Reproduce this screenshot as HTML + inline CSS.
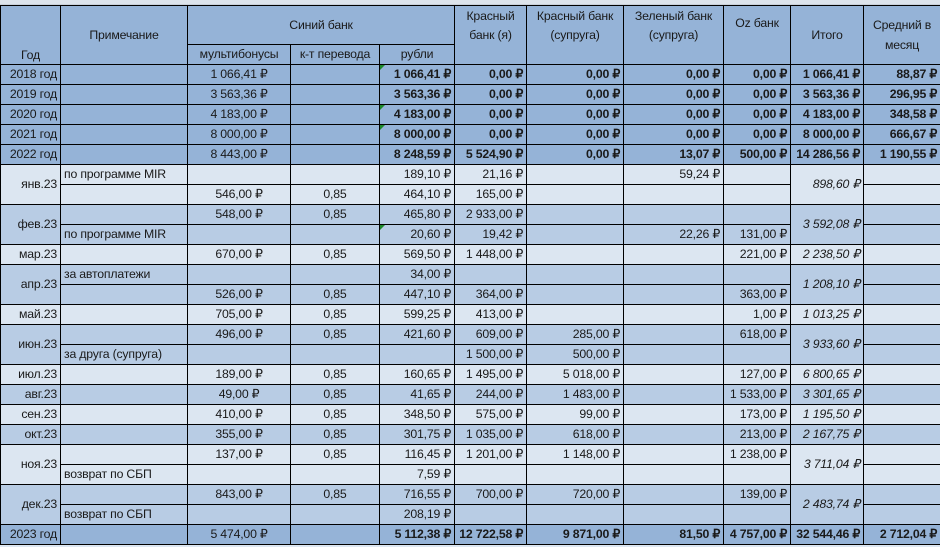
<!DOCTYPE html>
<html><head><meta charset="utf-8">
<style>
body{margin:0;width:940px;height:547px;overflow:hidden;background:#dce6f1;font-family:"Liberation Sans",sans-serif;}
.strip{height:5px;background:#dde4ec;border-bottom:1px solid #c8d0da;box-sizing:border-box;}
table{border-collapse:collapse;table-layout:fixed;width:940px;font-size:12.3px;color:#1a1a1a;letter-spacing:-0.2px;}
td{border:1px solid #000;padding:0 3px;height:19px;line-height:19px;white-space:nowrap;overflow:hidden;text-align:right;position:relative;}
.y td{background:#95b3d7;}
.l td{background:#dce6f1;}
.m td{background:#b8cce4;}
.h td{background:#95b3d7;text-align:center;}
.b{font-weight:bold;}
.c{text-align:center;}
.L{text-align:left;}
.i{font-style:italic;}
.tri:before{content:"";position:absolute;left:0;top:0;border-top:5px solid #1f8a2a;border-right:5px solid transparent;}
</style></head><body>
<div class="strip"></div>
<table>
<colgroup><col style="width:60px"><col style="width:127px"><col style="width:103px"><col style="width:89px"><col style="width:75px"><col style="width:72px"><col style="width:97px"><col style="width:100px"><col style="width:67px"><col style="width:73px"><col style="width:77px"></colgroup>
<tr class="h">
<td rowspan="2" style="vertical-align:bottom;line-height:18px">Год</td>
<td rowspan="2">Примечание</td>
<td colspan="3" style="height:38px">Синий банк</td>
<td rowspan="2" style="vertical-align:top;white-space:normal;line-height:19px;padding-top:1px">Красный банк (я)</td>
<td rowspan="2" style="vertical-align:top;white-space:normal;line-height:19px;padding-top:1px">Красный банк (супруга)</td>
<td rowspan="2" style="vertical-align:top;white-space:normal;line-height:19px;padding-top:1px">Зеленый банк (супруга)</td>
<td rowspan="2" style="vertical-align:top;padding-top:8px">Oz банк</td>
<td rowspan="2">Итого</td>
<td rowspan="2" style="white-space:normal;line-height:20px">Средний в месяц</td>
</tr>
<tr class="h">
<td>мультибонусы</td>
<td>к-т перевода</td>
<td>рубли</td>
</tr>
<tr class="y"><td>2018 год</td><td></td><td class="c">1 066,41 ₽</td><td></td><td class="b tri">1 066,41 ₽</td><td class="b">0,00 ₽</td><td class="b">0,00 ₽</td><td class="b">0,00 ₽</td><td class="b">0,00 ₽</td><td class="b">1 066,41 ₽</td><td class="b">88,87 ₽</td></tr>
<tr class="y"><td>2019 год</td><td></td><td class="c">3 563,36 ₽</td><td></td><td class="b">3 563,36 ₽</td><td class="b">0,00 ₽</td><td class="b">0,00 ₽</td><td class="b">0,00 ₽</td><td class="b">0,00 ₽</td><td class="b">3 563,36 ₽</td><td class="b">296,95 ₽</td></tr>
<tr class="y"><td>2020 год</td><td></td><td class="c">4 183,00 ₽</td><td></td><td class="b tri">4 183,00 ₽</td><td class="b">0,00 ₽</td><td class="b">0,00 ₽</td><td class="b">0,00 ₽</td><td class="b">0,00 ₽</td><td class="b">4 183,00 ₽</td><td class="b">348,58 ₽</td></tr>
<tr class="y"><td>2021 год</td><td></td><td class="c">8 000,00 ₽</td><td></td><td class="b tri">8 000,00 ₽</td><td class="b">0,00 ₽</td><td class="b">0,00 ₽</td><td class="b">0,00 ₽</td><td class="b">0,00 ₽</td><td class="b">8 000,00 ₽</td><td class="b">666,67 ₽</td></tr>
<tr class="y"><td>2022 год</td><td></td><td class="c">8 443,00 ₽</td><td></td><td class="b">8 248,59 ₽</td><td class="b">5 524,90 ₽</td><td class="b">0,00 ₽</td><td class="b">13,07 ₽</td><td class="b">500,00 ₽</td><td class="b">14 286,56 ₽</td><td class="b">1 190,55 ₽</td></tr>

<tr class="l"><td rowspan="2">янв.23</td><td class="L">по программе MIR</td><td></td><td></td><td>189,10 ₽</td><td>21,16 ₽</td><td></td><td>59,24 ₽</td><td></td><td rowspan="2" class="i">898,60 ₽</td><td></td></tr>
<tr class="l"><td></td><td class="c">546,00 ₽</td><td class="c">0,85</td><td>464,10 ₽</td><td>165,00 ₽</td><td></td><td></td><td></td><td></td></tr>
<tr class="m"><td rowspan="2">фев.23</td><td></td><td class="c">548,00 ₽</td><td class="c">0,85</td><td>465,80 ₽</td><td>2 933,00 ₽</td><td></td><td></td><td></td><td rowspan="2" class="i">3 592,08 ₽</td><td></td></tr>
<tr class="m"><td class="L">по программе MIR</td><td></td><td></td><td class="tri">20,60 ₽</td><td>19,42 ₽</td><td></td><td>22,26 ₽</td><td>131,00 ₽</td><td></td></tr>
<tr class="l"><td>мар.23</td><td></td><td class="c">670,00 ₽</td><td class="c">0,85</td><td>569,50 ₽</td><td>1 448,00 ₽</td><td></td><td></td><td>221,00 ₽</td><td class="i">2 238,50 ₽</td><td></td></tr>
<tr class="m"><td rowspan="2">апр.23</td><td class="L">за автоплатежи</td><td></td><td></td><td>34,00 ₽</td><td></td><td></td><td></td><td></td><td rowspan="2" class="i">1 208,10 ₽</td><td></td></tr>
<tr class="m"><td></td><td class="c">526,00 ₽</td><td class="c">0,85</td><td>447,10 ₽</td><td>364,00 ₽</td><td></td><td></td><td>363,00 ₽</td><td></td></tr>
<tr class="l"><td>май.23</td><td></td><td class="c">705,00 ₽</td><td class="c">0,85</td><td>599,25 ₽</td><td>413,00 ₽</td><td></td><td></td><td>1,00 ₽</td><td class="i">1 013,25 ₽</td><td></td></tr>
<tr class="m"><td rowspan="2">июн.23</td><td></td><td class="c">496,00 ₽</td><td class="c">0,85</td><td>421,60 ₽</td><td>609,00 ₽</td><td>285,00 ₽</td><td></td><td>618,00 ₽</td><td rowspan="2" class="i">3 933,60 ₽</td><td></td></tr>
<tr class="m"><td class="L">за друга (супруга)</td><td></td><td></td><td></td><td>1 500,00 ₽</td><td>500,00 ₽</td><td></td><td></td><td></td></tr>
<tr class="l"><td>июл.23</td><td></td><td class="c">189,00 ₽</td><td class="c">0,85</td><td>160,65 ₽</td><td>1 495,00 ₽</td><td>5 018,00 ₽</td><td></td><td>127,00 ₽</td><td class="i">6 800,65 ₽</td><td></td></tr>
<tr class="m"><td>авг.23</td><td></td><td class="c">49,00 ₽</td><td class="c">0,85</td><td>41,65 ₽</td><td>244,00 ₽</td><td>1 483,00 ₽</td><td></td><td>1 533,00 ₽</td><td class="i">3 301,65 ₽</td><td></td></tr>
<tr class="l"><td>сен.23</td><td></td><td class="c">410,00 ₽</td><td class="c">0,85</td><td>348,50 ₽</td><td>575,00 ₽</td><td>99,00 ₽</td><td></td><td>173,00 ₽</td><td class="i">1 195,50 ₽</td><td></td></tr>
<tr class="m"><td>окт.23</td><td></td><td class="c">355,00 ₽</td><td class="c">0,85</td><td>301,75 ₽</td><td>1 035,00 ₽</td><td>618,00 ₽</td><td></td><td>213,00 ₽</td><td class="i">2 167,75 ₽</td><td></td></tr>
<tr class="l"><td rowspan="2">ноя.23</td><td></td><td class="c">137,00 ₽</td><td class="c">0,85</td><td>116,45 ₽</td><td>1 201,00 ₽</td><td>1 148,00 ₽</td><td></td><td>1 238,00 ₽</td><td rowspan="2" class="i">3 711,04 ₽</td><td></td></tr>
<tr class="l"><td class="L">возврат по СБП</td><td></td><td></td><td>7,59 ₽</td><td></td><td></td><td></td><td></td><td></td></tr>
<tr class="m"><td rowspan="2">дек.23</td><td></td><td class="c">843,00 ₽</td><td class="c">0,85</td><td>716,55 ₽</td><td>700,00 ₽</td><td>720,00 ₽</td><td></td><td>139,00 ₽</td><td rowspan="2" class="i">2 483,74 ₽</td><td></td></tr>
<tr class="m"><td class="L">возврат по СБП</td><td></td><td></td><td>208,19 ₽</td><td></td><td></td><td></td><td></td><td></td></tr>
<tr class="y"><td>2023 год</td><td></td><td class="c">5 474,00 ₽</td><td></td><td class="b">5 112,38 ₽</td><td class="b">12 722,58 ₽</td><td class="b">9 871,00 ₽</td><td class="b">81,50 ₽</td><td class="b">4 757,00 ₽</td><td class="b">32 544,46 ₽</td><td class="b">2 712,04 ₽</td></tr>
</table>
</body></html>
